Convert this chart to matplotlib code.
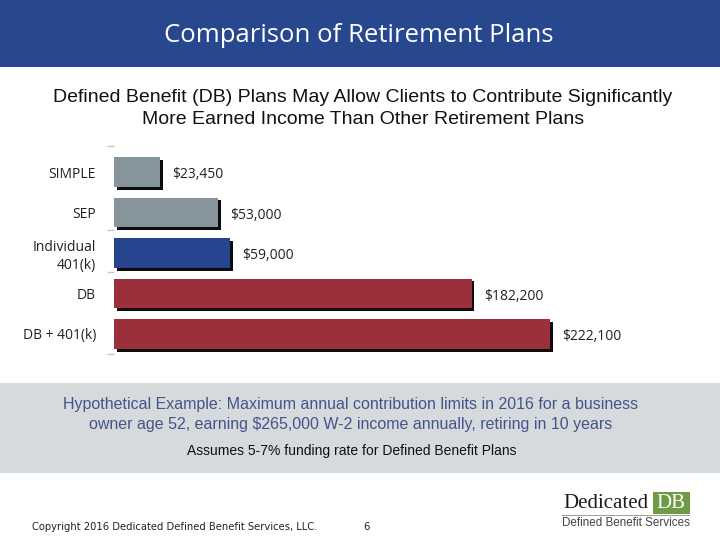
import matplotlib
matplotlib.use("Agg")
import matplotlib.pyplot as plt
from matplotlib.patches import Rectangle
import matplotlib.patheffects as pe

categories = ["SIMPLE", "SEP", "Individual\n401(k)", "DB", "DB + 401(k)"]
values = [23450, 53000, 59000, 182200, 222100]
value_labels = ["$23,450", "$53,000", "$59,000", "$182,200", "$222,100"]
bar_colors = ["#86959c", "#86959c", "#27458f", "#9b2f3b", "#9b2f3b"]

W, H = 720, 540
fig = plt.figure(figsize=(7.2, 5.4), dpi=100)
fig.patch.set_facecolor("white")

def fx(px):
    return px / W

def fy(py):
    return 1 - py / H

# header band
fig.patches.append(Rectangle((0, fy(67)), 1, 67 / H, transform=fig.transFigure,
                             facecolor="#27478f", edgecolor="none", zorder=0))
fig.text(fx(359), fy(35), "Comparison of Retirement Plans", color="white",
         fontsize=18.5, family="Open Sans", ha="center", va="center")

# subtitle
fig.text(fx(363), fy(97), "Defined Benefit (DB) Plans May Allow Clients to Contribute Significantly",
         fontsize=14, family="Liberation Sans", ha="center", va="center", color="#111111")
fig.text(fx(363), fy(120), "More Earned Income Than Other Retirement Plans",
         fontsize=14, family="Liberation Sans", ha="center", va="center", color="#111111")

# chart axes
ax_left, ax_right = 114, 640
ax_top, ax_bot = 146, 354
ax = fig.add_axes([fx(ax_left), fy(ax_bot), (ax_right - ax_left) / W, (ax_bot - ax_top) / H])
ax.set_facecolor("none")
y = list(range(len(categories)))
bars = ax.barh(y, values, height=0.74, color=bar_colors, edgecolor="none", zorder=3)
for b in bars:
    b.set_path_effects([pe.SimplePatchShadow(offset=(2, -2), shadow_rgbFace="black", alpha=0.95),
                        pe.Normal()])
ax.set_xlim(0, 222100 * (ax_right - ax_left) / 436)
ax.set_ylim(4.494, -0.642)
ax.set_yticks(y)
ax.set_yticklabels(categories, fontsize=10, family="Open Sans", color="#222222",
                   linespacing=1.3)
ax.tick_params(axis="y", which="major", length=0, pad=13)
ax.set_yticks([-0.642, 1.44, 2.46, 4.494], minor=True)
ax.tick_params(axis="y", which="minor", length=5, color="#c8c8c8", width=1)
ax.set_xticks([])
for s in ax.spines.values():
    s.set_visible(False)
for yi, v, lab in zip(y, values, value_labels):
    ax.annotate(lab, (v, yi), xytext=(9, -2), textcoords="offset points",
                ha="left", va="center", fontsize=10, family="Open Sans", color="#222222")

# gray info box
fig.patches.append(Rectangle((0, fy(473)), 1, (473 - 383) / H, transform=fig.transFigure,
                             facecolor="#d7dadd", edgecolor="none", zorder=0))
fig.text(fx(351), fy(404), "Hypothetical Example: Maximum annual contribution limits in 2016 for a business",
         fontsize=11.5, family="Liberation Sans", ha="center", va="center", color="#44548a")
fig.text(fx(351), fy(424), "owner age 52, earning $265,000 W-2 income annually, retiring in 10 years",
         fontsize=11.5, family="Liberation Sans", ha="center", va="center", color="#44548a")
fig.text(fx(352), fy(451), "Assumes 5-7% funding rate for Defined Benefit Plans",
         fontsize=10, family="Liberation Sans", ha="center", va="center", color="#111111")

# footer
fig.text(fx(32), fy(527), "Copyright 2016 Dedicated Defined Benefit Services, LLC.",
         fontsize=7.2, family="DejaVu Sans", ha="left", va="center", color="#222222")
fig.text(fx(366), fy(527), "6", fontsize=7.2, family="DejaVu Sans", ha="center", va="center",
         color="#222222")

# logo
fig.patches.append(Rectangle((fx(653), fy(514)), (690 - 653) / W, (514 - 492) / H,
                             transform=fig.transFigure, facecolor="#6f9a46", edgecolor="none"))
fig.text(fx(671), fy(504), "DB", fontsize=15, family="Liberation Serif", ha="center",
         va="center", color="white")
fig.text(fx(563), fy(504), "Dedicated", fontsize=15, family="Liberation Serif", ha="left",
         va="center", color="#1a1a1a")
fig.patches.append(Rectangle((fx(562), fy(516)), (690 - 562) / W, 1.5 / H,
                             transform=fig.transFigure, facecolor="#9aa88a", edgecolor="none"))
fig.text(fx(562), fy(523), "Defined Benefit Services", fontsize=8.4, family="Liberation Sans",
         ha="left", va="center", color="#444444")

fig.savefig("out.png", dpi=100)
